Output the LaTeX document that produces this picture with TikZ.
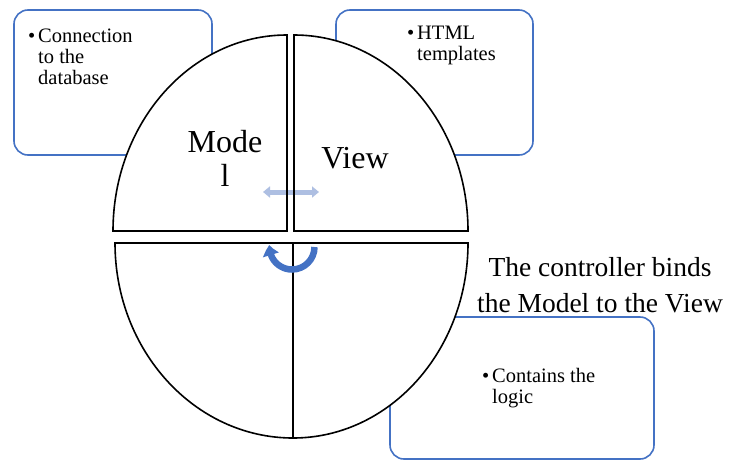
\documentclass[tikz,border=0pt]{standalone}
\usepackage{fontspec}
\setmainfont{Liberation Serif}
\usetikzlibrary{arrows.meta,bending}
\definecolor{boxblue}{HTML}{4472C4}
\definecolor{paleblue}{HTML}{AEBFE2}

\begin{document}
\begin{tikzpicture}[x=1pt,y=-1pt,
  infobox/.style={draw=boxblue, line width=1.6pt, rounded corners=14pt, fill=white,
    inner sep=0pt, outer sep=0pt},
  quadfill/.style={fill=white},
  quadline/.style={draw=black, line width=1.6pt, line join=miter},
  bullettext/.style={anchor=base west, inner sep=0pt, align=left,
    font=\fontsize{20.5}{21}\selectfont},
  bigtext/.style={anchor=base, inner sep=0pt, align=center,
    font=\fontsize{32}{34}\selectfont},
  notetext/.style={anchor=base, inner sep=0pt, align=center,
    font=\fontsize{27.5}{36}\selectfont},
]
\useasboundingbox (0,0) rectangle (730,461);

% rounded info boxes (behind the ellipse)
\node[infobox, minimum width=198pt, minimum height=145pt] (dbbox) at (113,82.5) {};
\node[infobox, minimum width=197pt, minimum height=145pt] (htmlbox) at (434.5,82.5) {};
\node[infobox, minimum width=264pt, minimum height=142pt] (logicbox) at (522,388) {};

% the four quarters of the ellipse: white fills
\path[quadfill] (287,231) -- (287,35) arc[start angle=-90, end angle=-180, x radius=174, y radius=196] -- cycle;
\path[quadfill] (294,231) -- (294,35) arc[start angle=-90, end angle=0, x radius=174, y radius=196] -- cycle;
\path[quadfill] (293,243) -- (115,243) arc[start angle=180, end angle=90, x radius=178, y radius=195] -- cycle;
\path[quadfill] (293,243) -- (468,243) arc[start angle=0, end angle=90, x radius=175, y radius=195] -- cycle;

% two-way arrow between Model and View
\coordinate (mleft) at (263,192);
\coordinate (mright) at (319,192);
\draw[paleblue, line width=5pt, {Triangle[length=7pt,width=11pt]}-{Triangle[length=7pt,width=11pt]}] (mleft) -- (mright);

% outlines of the quarters
\draw[quadline] (287,231) -- (287,35) arc[start angle=-90, end angle=-180, x radius=174, y radius=196] -- cycle;
\draw[quadline] (294,231) -- (294,35) arc[start angle=-90, end angle=0, x radius=174, y radius=196] -- cycle;
\draw[quadline] (293,243) -- (115,243) arc[start angle=180, end angle=90, x radius=178, y radius=195] -- cycle;
\draw[quadline] (293,243) -- (468,243) arc[start angle=0, end angle=90, x radius=175, y radius=195] -- cycle;

% curved controller arrow
\coordinate (cstart) at (314.5,247);
\draw[boxblue, line width=6.5pt, -{Triangle[length=10pt,width=16pt,bend]}] (cstart) arc[start angle=0, end angle=185, radius=22.5];

% labels (multi-line nodes sit on the baseline of their last line)
\node[bigtext] (model) at (225,186) {Mode\\l};
\node[bigtext] (view) at (355,168) {View};
\node[notetext] (note) at (600,312) {The controller binds\\the Model to the View};

\node[bullettext] (dbtext) at (38,84) {\llap{•\hskip3pt}Connection\\to the\\database};
\node[bullettext] (htmltext) at (417,60) {\llap{•\hskip3pt}HTML\\templates};
\node[bullettext] (logictext) at (492,403) {\llap{•\hskip3pt}Contains the\\logic};
\end{tikzpicture}
\end{document}
